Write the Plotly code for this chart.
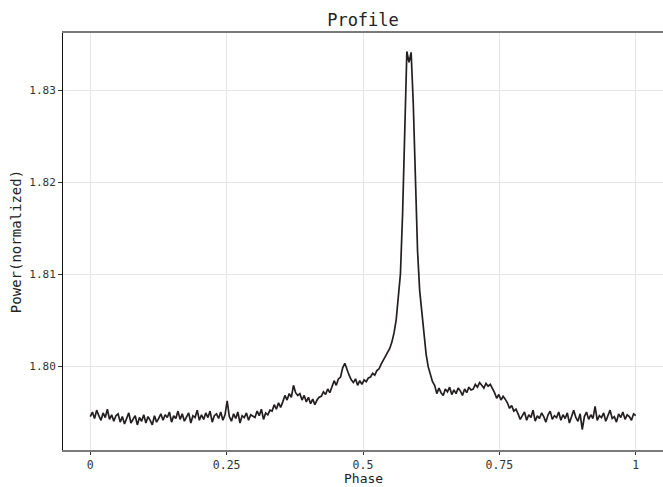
import numpy as np
import plotly.graph_objects as go

# Normalized power per phase bin (256 bins, phase 0..1)
power = [
    # 0.00 - 0.05
    1.7945, 1.7950, 1.7943, 1.7952, 1.7946, 1.7941, 1.7949, 1.7944, 1.7953, 1.7942, 1.7947, 1.7940, 1.7946,
    # 0.05 - 0.10
    1.7948, 1.7939, 1.7945, 1.7937, 1.7944, 1.7949, 1.7938, 1.7942, 1.7946, 1.7936, 1.7944, 1.7940, 1.7947,
    # 0.10 - 0.13
    1.7938, 1.7945, 1.7941, 1.7936, 1.7946, 1.7939, 1.7943, 1.7948,
    # 0.13 - 0.20
    1.7941, 1.7947, 1.7944, 1.7950, 1.7939, 1.7946, 1.7943, 1.7951, 1.7942, 1.7948, 1.7940, 1.7945, 1.7949,
    1.7938, 1.7946, 1.7944, 1.7952, 1.7941,
    # 0.20 - 0.30
    1.7947, 1.7942, 1.7949, 1.7944, 1.7951, 1.7939, 1.7946, 1.7948, 1.7943, 1.7950, 1.7941, 1.7947, 1.7962,
    1.7945, 1.7940, 1.7948, 1.7943, 1.7950, 1.7938, 1.7946, 1.7944, 1.7949, 1.7941, 1.7947, 1.7945,
    # 0.30 - 0.33
    1.7944, 1.7951, 1.7946, 1.7953, 1.7942, 1.7949, 1.7947, 1.7952,
    # 0.33 - 0.37
    1.7951, 1.7958, 1.7953, 1.7960, 1.7955,
    1.7961, 1.7968, 1.7963, 1.7970, 1.7966,
    # 0.37 - 0.42
    1.7979, 1.7971, 1.7968,
    1.7970, 1.7963, 1.7968, 1.7961, 1.7966,
    1.7959, 1.7964, 1.7958, 1.7963, 1.7966,
    # 0.42 - 0.46
    1.7967, 1.7972, 1.7969, 1.7975, 1.7971,
    1.7977, 1.7984, 1.7979, 1.7986, 1.7988,
    # 0.46 - 0.53 (small bump)
    1.7998, 1.8003,
    1.7996, 1.7990, 1.7985,
    1.7982, 1.7986, 1.7979, 1.7984, 1.7980, 1.7985, 1.7983, 1.7987,
    1.7988, 1.7992, 1.7990, 1.7995, 1.7997,
    # 0.53 - 0.63 (main pulse)
    1.8002, 1.8006, 1.8010, 1.8015, 1.8019, 1.8026, 1.8036, 1.8050, 1.8075, 1.8100,
    1.8165, 1.8255, 1.8342, 1.8330, 1.8341, 1.8285, 1.8205, 1.8125, 1.8082, 1.8056,
    1.8033, 1.8013, 1.7999, 1.7991, 1.7983, 1.7979,
    # 0.635 - 0.70
    1.7970, 1.7976, 1.7971, 1.7968, 1.7975, 1.7972, 1.7977, 1.7969, 1.7974, 1.7970, 1.7976, 1.7973,
    1.7968, 1.7975, 1.7971, 1.7977, 1.7974,
    # 0.70 - 0.74
    1.7975, 1.7980, 1.7977, 1.7982, 1.7979, 1.7976, 1.7981, 1.7978, 1.7980, 1.7976,
    # 0.74 - 0.78
    1.7971, 1.7965, 1.7969, 1.7963, 1.7967, 1.7964,
    1.7960, 1.7954, 1.7957, 1.7951, 1.7953,
    # 0.78 - 1.00
    1.7948, 1.7942, 1.7946, 1.7950, 1.7941, 1.7947, 1.7944, 1.7952, 1.7940, 1.7946,
    1.7943, 1.7949, 1.7945, 1.7939, 1.7947, 1.7951, 1.7942, 1.7946, 1.7944, 1.7950,
    1.7941, 1.7947, 1.7943, 1.7949, 1.7938, 1.7946, 1.7952, 1.7944, 1.7940, 1.7948,
    1.7931, 1.7945, 1.7950, 1.7942, 1.7947, 1.7943, 1.7956, 1.7941, 1.7946, 1.7944,
    1.7949, 1.7940, 1.7947, 1.7952, 1.7943, 1.7945, 1.7939, 1.7948, 1.7944, 1.7950,
    1.7942, 1.7947, 1.7945, 1.7941, 1.7948, 1.7946,
]
phase = np.linspace(0, 1, len(power))

x_tickvals = [0, 0.25, 0.5, 0.75, 1]
x_ticktext = ["0", "0.25", "0.5", "0.75", "1"]
y_tickvals = [1.80, 1.81, 1.82, 1.83]
y_ticktext = ["1.80", "1.81", "1.82", "1.83"]

FONT = "DejaVu Sans Mono"

fig = go.Figure()
fig.add_trace(go.Scatter(x=phase, y=power, mode="lines",
                         line=dict(color="#231f20", width=1.7), showlegend=False))

fig.update_layout(
    width=663, height=487,
    margin=dict(l=63, r=0, t=33, b=37),
    paper_bgcolor="white", plot_bgcolor="white",
    font=dict(family=FONT, color="#222222"),
    title=dict(text="Profile", x=0.5475, xanchor="center", y=0.958, yanchor="middle",
               font=dict(family=FONT, size=17, color="#222222")),
    xaxis=dict(
        range=[-0.05, 1.05], tickvals=x_tickvals, ticktext=x_ticktext,
        showgrid=True, gridcolor="#e6e6e6", gridwidth=1, zeroline=False,
        showline=True, linecolor="#7a7a7a", linewidth=2, mirror=True,
        ticks="outside", ticklen=3, tickcolor="#333333", automargin=False,
        tickfont=dict(family=FONT, size=11.5, color="#333333"),
    ),
    yaxis=dict(
        range=[1.79087, 1.8362], tickvals=y_tickvals, ticktext=y_ticktext,
        showgrid=True, gridcolor="#e6e6e6", gridwidth=1, zeroline=False,
        showline=True, linecolor="#111111", linewidth=1,
        ticks="outside", ticklen=4, tickcolor="#333333", automargin=False,
        tickfont=dict(family=FONT, size=11, color="#333333"),
        title=dict(text="Power(normalized)", font=dict(family=FONT, size=14, color="#222222"), standoff=4),
    ),
    annotations=[dict(text="Phase", xref="paper", yref="paper", x=0.5, y=-0.0695,
                      xanchor="center", yanchor="middle", showarrow=False, borderpad=0,
                      font=dict(family=FONT, size=13, color="#222222"))],
)

fig.write_html("out.html")
